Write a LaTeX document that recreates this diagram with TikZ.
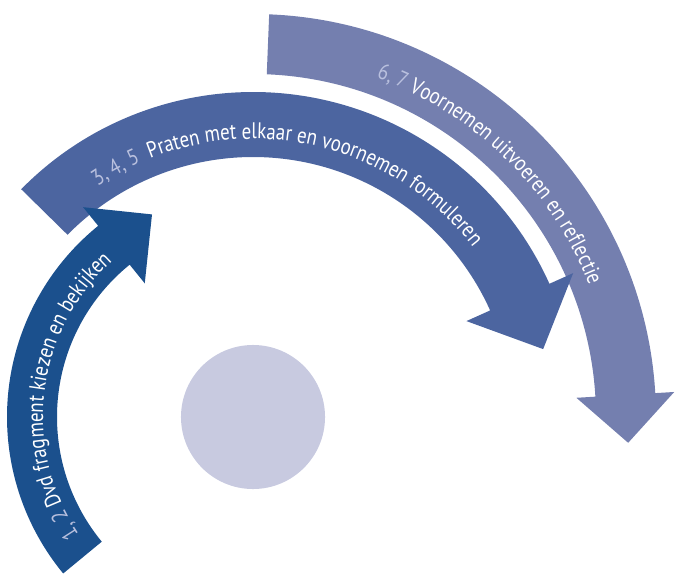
\documentclass[tikz,border=0pt]{standalone}
\usepackage{fontspec}
\setmainfont{PT Sans}[FakeStretch=0.84]
\usetikzlibrary{calc,decorations.text}

\definecolor{stepone}{RGB}{27,80,141}
\definecolor{steptwo}{RGB}{76,101,160}
\definecolor{stepthree}{RGB}{116,127,175}
\definecolor{hubfill}{RGB}{200,202,224}
\definecolor{numcol}{RGB}{185,192,222}
\newcommand{\arcfont}{\fontsize{16}{19}\selectfont}

\begin{document}
\begin{tikzpicture}[x=0.025cm, y=0.025cm,
  arcbody/.style={draw=none},
  arctext/.style={decorate, decoration={text along path, text color=white}}]
\useasboundingbox (0,0) rectangle (676,574);
\coordinate (C) at (253,157);

\node[circle, fill=hubfill, minimum size=3.6cm, inner sep=0pt] (hub) at (C) {};

\fill[arcbody, stepthree] ($(C)+(87.7:403)$) arc[start angle=87.7, end angle=3.4, radius=403]
  -- ($(C)+(3.4:422)$) -- ($(C)+(3.4:373)+(-86.6:48)$) -- ($(C)+(3.4:324)$)
  -- ($(C)+(3.4:343)$) arc[start angle=3.4, end angle=87.7, radius=343] -- cycle;

\fill[arcbody, steptwo] ($(C)+(135.5:325)$) arc[start angle=135.5, end angle=24.2, radius=325]
  -- ($(C)+(24.2:351)$) -- ($(C)+(24.2:292.5)+(-65.8:57)$) -- ($(C)+(24.2:234)$)
  -- ($(C)+(24.2:260)$) arc[start angle=24.2, end angle=135.5, radius=260] -- cycle;

\fill[arcbody, stepone] ($(C)+(219.5:246)$) arc[start angle=219.5, end angle=129, radius=246]
  -- ($(C)+(129:270)$) -- ($(C)+(129:221)+(39:49)$) -- ($(C)+(129:172)$)
  -- ($(C)+(129:196)$) arc[start angle=129, end angle=219.5, radius=196] -- cycle;

\path[arctext, decoration={text={|\arcfont\color{numcol}|1, 2|\arcfont\color{white}| Dvd fragment kiezen en bekijken}}]
  ($(C)+(214:210)$) arc[start angle=214, end angle=100, radius=210];
\path[arctext, decoration={text={|\arcfont\color{numcol}|3, 4, 5|\arcfont\color{white}| \ Praten met elkaar en voornemen formuleren}}]
  ($(C)+(124:278)$) arc[start angle=124, end angle=10, radius=278];
\path[arctext, decoration={text={|\arcfont\color{numcol}|6, 7|\arcfont\color{white}| Voornemen uitvoeren en reflectie}}]
  ($(C)+(70:361)$) arc[start angle=70, end angle=0, radius=361];
\end{tikzpicture}
\end{document}
